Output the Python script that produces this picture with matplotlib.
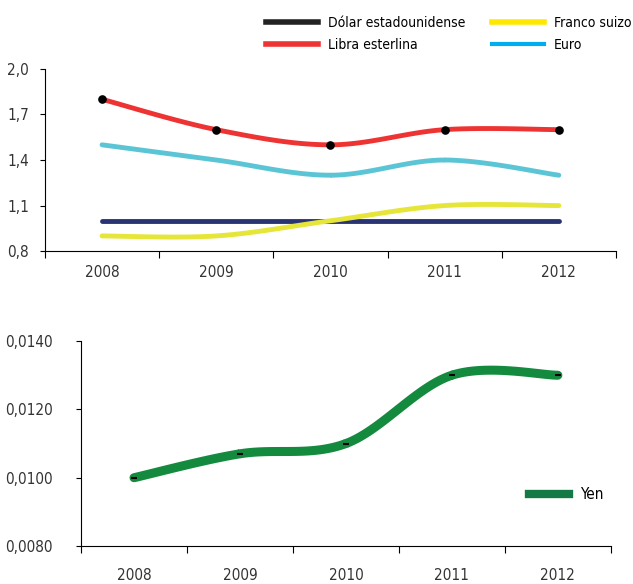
import numpy as np
import matplotlib
matplotlib.use('Agg')
import matplotlib.pyplot as plt
from matplotlib.lines import Line2D

plt.rcParams['font.family'] = ['DejaVu Sans']
plt.rcParams['font.stretch'] = 'condensed'

years = ['2008', '2009', '2010', '2011', '2012']
dolar = [1.0, 1.0, 1.0, 1.0, 1.0]
libra = [1.8, 1.6, 1.5, 1.6, 1.6]
franco = [0.9, 0.9, 1.0, 1.1, 1.1]
euro = [1.5, 1.4, 1.3, 1.4, 1.3]
yen = [0.0100, 0.0107, 0.0110, 0.0130, 0.0130]


# smooth line through the points (like excel "smoothed line")
def smooth(y, n=30):
    y = np.asarray(y, float)
    x = np.arange(len(y), dtype=float)
    px = np.concatenate([[x[0]], x, [x[-1]]])
    py = np.concatenate([[y[0]], y, [y[-1]]])
    xs, ys = [], []
    t = np.linspace(0, 1, n)
    for i in range(1, len(px) - 2):
        p0, p1, p2, p3 = py[i - 1], py[i], py[i + 1], py[i + 2]
        q0, q1, q2, q3 = px[i - 1], px[i], px[i + 1], px[i + 2]
        ys.append(0.5 * (2 * p1 + (-p0 + p2) * t + (2 * p0 - 5 * p1 + 4 * p2 - p3) * t ** 2 + (-p0 + 3 * p1 - 3 * p2 + p3) * t ** 3))
        xs.append(0.5 * (2 * q1 + (-q0 + q2) * t + (2 * q0 - 5 * q1 + 4 * q2 - q3) * t ** 2 + (-q0 + 3 * q1 - 3 * q2 + q3) * t ** 3))
    return np.concatenate(xs), np.concatenate(ys)


def style_axes(ax, xpad, ypad):
    ax.spines['top'].set_visible(False)
    ax.spines['right'].set_visible(False)
    ax.spines['left'].set_linewidth(0.8)
    ax.spines['bottom'].set_linewidth(0.8)
    ax.set_xlim(-0.5, 4.5)
    ax.set_xticks(np.arange(-0.5, 5.0, 1.0))
    ax.set_xticklabels([])
    ax.set_xticks(np.arange(5), minor=True)
    ax.set_xticklabels(years, minor=True, fontsize=11, color='#333333')
    ax.tick_params(axis='x', which='major', length=5, width=0.8, direction='out')
    ax.tick_params(axis='x', which='minor', length=0, pad=xpad)
    ax.tick_params(axis='y', length=3.5, width=0.8, labelsize=11, labelcolor='#333333', pad=ypad)


fig = plt.figure(figsize=(6.33, 5.84), dpi=100)

# top chart
ax1 = fig.add_axes([0.071, 0.570, 0.902, 0.312])
xs, ys = smooth(dolar)
ax1.plot(xs, ys, color='#2B3472', lw=3.5, solid_capstyle='round')
xs, ys = smooth(franco)
ax1.plot(xs, ys, color='#E6E63A', lw=3.5, solid_capstyle='round')
xs, ys = smooth(euro)
ax1.plot(xs, ys, color='#5BC5D6', lw=3.5, solid_capstyle='round')
xs, ys = smooth(libra)
ax1.plot(xs, ys, color='#EE3333', lw=3.5, solid_capstyle='round')
ax1.plot(range(5), libra, 'o', color='black', ms=5.2, ls='none')
ax1.set_ylim(0.8, 2.0)
ax1.set_yticks([0.8, 1.1, 1.4, 1.7, 2.0])
ax1.set_yticklabels(['0,8', '1,1', '1,4', '1,7', '2,0'])
style_axes(ax1, 10, 8)

leg_kw = dict(loc='upper left', frameon=False, fontsize=10, handlelength=3.75,
              labelspacing=0.6, handletextpad=0.72, borderaxespad=0, borderpad=0)
leg1 = fig.legend([Line2D([], [], color='#222222', lw=4), Line2D([], [], color='#EE3333', lw=4)],
                  ['Dólar estadounidense', 'Libra esterlina'],
                  bbox_to_anchor=(0.42, 0.973), **leg_kw)
leg2 = fig.legend([Line2D([], [], color='#FFE800', lw=4), Line2D([], [], color='#00AEEF', lw=3)],
                  ['Franco suizo', 'Euro'],
                  bbox_to_anchor=(0.777, 0.973), **leg_kw)

# bottom chart
ax2 = fig.add_axes([0.128, 0.065, 0.837, 0.351])
xs, ys = smooth(yen)
ax2.plot(xs, ys, color='#148A3E', lw=6.5, solid_capstyle='round')
ax2.plot(range(5), yen, '_', color='black', ms=4, mew=1.5, ls='none')
ax2.set_ylim(0.008, 0.014)
ax2.set_yticks([0.008, 0.010, 0.012, 0.014])
ax2.set_yticklabels(['0,0080', '0,0100', '0,0120', '0,0140'])
style_axes(ax2, 16, 17)
ax2.legend([Line2D([], [], color='#137A45', lw=6)], ['Yen'], loc='center left',
           bbox_to_anchor=(0.82, 0.25), frameon=False, fontsize=11, handlelength=2.6,
           handletextpad=0.7)

fig.savefig('out.png', dpi=100)
